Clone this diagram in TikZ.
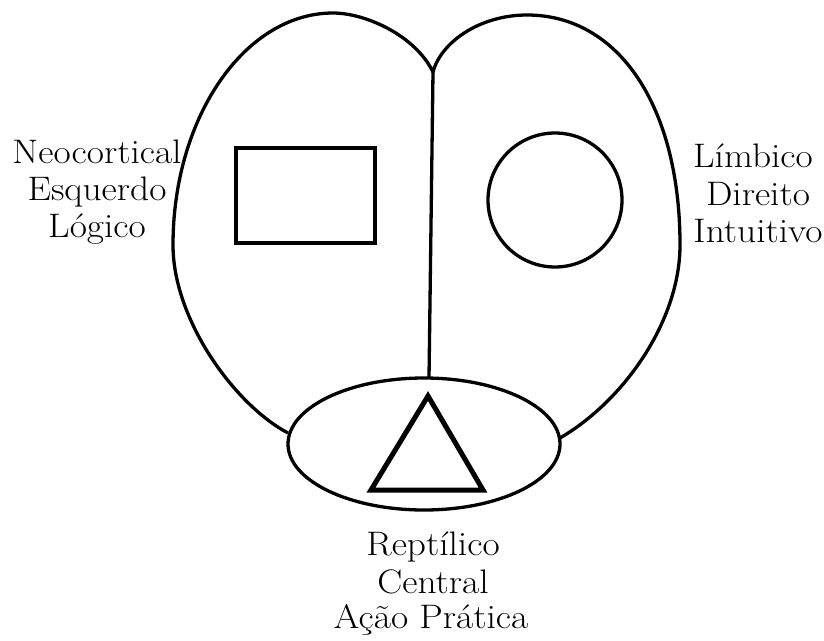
\documentclass[tikz,border=0pt]{standalone}
\newcommand{\wtxt}[1]{\scalebox{1.1}[1]{#1}}
\begin{document}
\begin{tikzpicture}[x=1pt,y=-1pt,
  outline/.style={draw=black,line width=3.3pt,line join=round},
  heavy/.style={draw=black,line width=5pt,line join=miter},
  lbl/.style={anchor=base,inner sep=0pt,font=\fontsize{34}{40}\selectfont}]
\useasboundingbox (0,0) rectangle (824,640);
% brain outline (two lobes)
\coordinate (jl) at (288,433);
\coordinate (jr) at (560,438);
\coordinate (cusp) at (433,72);
\draw[outline] (jl) .. controls (235,405) and (173,320) .. (173,245)
  .. controls (173,117) and (245,13) .. (333,13)
  .. controls (365,13) and (415,35) .. (cusp)
  .. controls (441,42) and (480,15) .. (527,15)
  .. controls (619,15) and (680,107) .. (680,245)
  .. controls (680,320) and (625,400) .. (jr);
% midline
\coordinate (mid) at (429,378);
\draw[outline] (cusp) -- (mid);
% reptilian ellipse
\draw[outline] (424,444) ellipse [x radius=136pt, y radius=66pt];
% shapes
\draw[outline,line join=miter] (236,148) rectangle (375,243);
\draw[outline] (555,200) circle [radius=67pt];
\draw[heavy] (428,396) -- (483,490) -- (371,490) -- cycle;
% labels
\node[lbl] (l1) at (97,163) {\wtxt{Neocortical}};
\node[lbl] (l2) at (97,200) {\wtxt{Esquerdo}};
\node[lbl] (l3) at (97,237) {\wtxt{Lógico}};
\node[lbl] (r1) at (753,167) {\wtxt{Límbico}};
\node[lbl] (r2) at (758,205) {\wtxt{Direito}};
\node[lbl] (r3) at (758,242) {\wtxt{Intuitivo}};
\node[lbl] (b1) at (433,555) {\wtxt{Reptílico}};
\node[lbl] (b2) at (433,593) {\wtxt{Central}};
\node[lbl] (b3) at (431,628) {\wtxt{Ação Prática}};
\end{tikzpicture}
\end{document}
